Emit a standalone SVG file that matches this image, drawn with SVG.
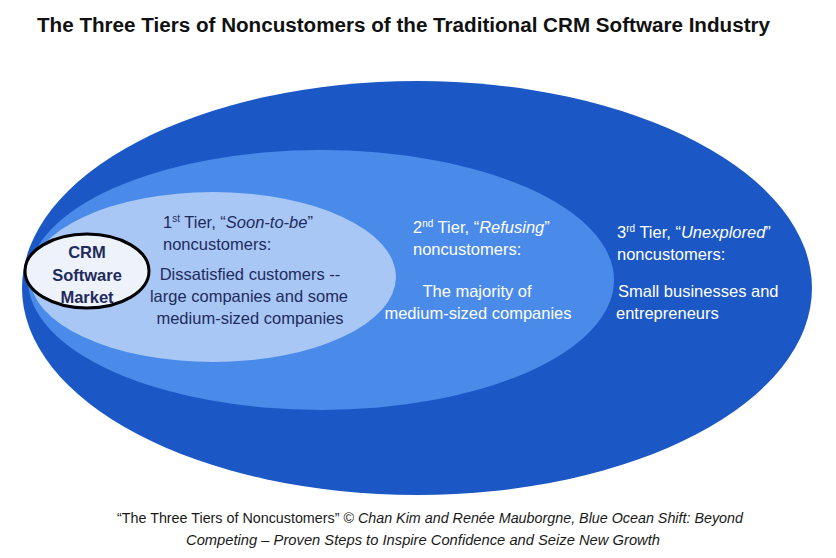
<svg xmlns="http://www.w3.org/2000/svg" width="836" height="558" viewBox="0 0 836 558">
<style>
.t{font-family:"Liberation Sans",Arial,sans-serif;}
.title{font-size:20px;font-weight:bold;fill:#111;}
.lbl{font-size:16.5px;}
.dark{fill:#1f2b5e;}
.white{fill:#ffffff;}
.crm{font-size:16.5px;font-weight:bold;fill:#1f2b5e;}
.foot{font-size:14.5px;fill:#1a1a1a;}
.sup{font-size:10px;}
</style>
<rect width="836" height="558" fill="#ffffff"/>
<text class="t title" x="37" y="32" textLength="733" lengthAdjust="spacingAndGlyphs">The Three Tiers of Noncustomers of the Traditional CRM Software Industry</text>
<g id="tier3">
<ellipse cx="417" cy="288" rx="395" ry="207" fill="#1c57c6"/>
<text class="t lbl white" x="617" y="238">3<tspan class="sup" dy="-6">rd</tspan><tspan dy="6"> Tier, “</tspan><tspan font-style="italic">Unexplored</tspan>”</text>
<text class="t lbl white" x="617" y="260">noncustomers:</text>
<text class="t lbl white" x="618" y="297">Small businesses and</text>
<text class="t lbl white" x="616" y="319">entrepreneurs</text>
</g>
<g id="tier2">
<ellipse cx="321" cy="280" rx="293" ry="130" fill="#4a8be9"/>
<text class="t lbl white" x="413" y="233">2<tspan class="sup" dy="-6">nd</tspan><tspan dy="6"> Tier, “</tspan><tspan font-style="italic">Refusing</tspan>”</text>
<text class="t lbl white" x="413" y="255">noncustomers:</text>
<text class="t lbl white" x="477" y="297" text-anchor="middle">The majority of</text>
<text class="t lbl white" x="478" y="319" text-anchor="middle">medium-sized companies</text>
</g>
<g id="tier1">
<ellipse cx="213" cy="277" rx="183" ry="85" fill="#a9c7f4"/>
<text class="t lbl dark" x="163" y="228">1<tspan class="sup" dy="-6">st</tspan><tspan dy="6"> Tier, “</tspan><tspan font-style="italic">Soon-to-be</tspan>”</text>
<text class="t lbl dark" x="163" y="250">noncustomers:</text>
<text class="t lbl dark" x="250" y="280" text-anchor="middle">Dissatisfied customers --</text>
<text class="t lbl dark" x="249" y="302" text-anchor="middle">large companies and some</text>
<text class="t lbl dark" x="250" y="324" text-anchor="middle">medium-sized companies</text>
</g>
<g id="crm-market">
<ellipse cx="87" cy="271" rx="62" ry="37" fill="#eef3fb" stroke="#000" stroke-width="3"/>
<text class="t crm" x="87" y="258" text-anchor="middle">CRM</text>
<text class="t crm" x="87" y="281" text-anchor="middle">Software</text>
<text class="t crm" x="87" y="303" text-anchor="middle">Market</text>
</g>
<g id="caption">
<text class="t foot" x="117" y="523" textLength="626" lengthAdjust="spacingAndGlyphs">“The Three Tiers of Noncustomers” © <tspan font-style="italic">Chan Kim and Renée Mauborgne, Blue Ocean Shift: Beyond</tspan></text>
<text class="t foot" x="186" y="545" font-style="italic" textLength="474" lengthAdjust="spacingAndGlyphs">Competing – Proven Steps to Inspire Confidence and Seize New Growth</text>
</g>
</svg>
